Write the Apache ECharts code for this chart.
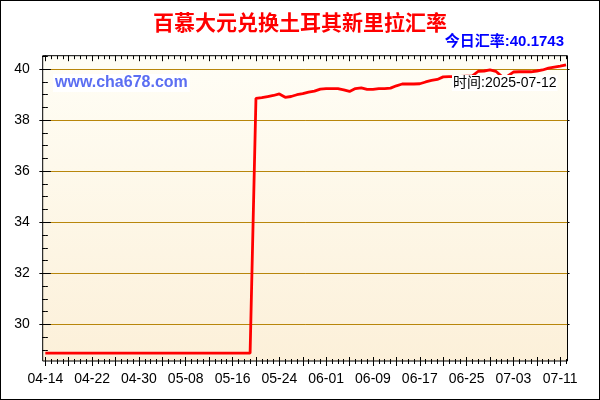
<!DOCTYPE html>
<html>
<head>
<meta charset="utf-8">
<script src="https://cdn.jsdelivr.net/npm/echarts@6/dist/echarts.min.js"></script>
<style>
html, body { margin: 0; padding: 0; background: #fff; }
#main { width: 600px; height: 400px; }
</style>
</head>
<body>
<div id="main"></div>
<script>
// 每日汇率 04-14 ~ 07-12
var rates = [
  28.87, 28.87, 28.87, 28.87, 28.87, 28.87, 28.87, 28.87, 28.87, 28.87,
  28.87, 28.87, 28.87, 28.87, 28.87, 28.87, 28.87, 28.87, 28.87, 28.87,
  28.87, 28.87, 28.87, 28.87, 28.87, 28.87, 28.87, 28.87, 28.87, 28.87,
  28.87, 28.87, 28.87, 28.87, 28.87, 28.87,
  38.86, 38.89, 38.93, 38.97, 39.03, 38.90, 38.93, 39.00, 39.04, 39.10,
  39.14, 39.22, 39.24, 39.24, 39.24, 39.19, 39.13, 39.24, 39.27, 39.21,
  39.21, 39.24, 39.24, 39.26, 39.35, 39.42, 39.42, 39.42, 39.43, 39.50,
  39.56, 39.60, 39.70, 39.71, 39.71, 39.72, 39.73, 39.74, 39.92, 39.93,
  39.97, 39.92, 39.72, 39.73, 39.89, 39.90, 39.90, 39.90, 39.93, 39.97,
  40.04, 40.08, 40.12, 40.1743
];
var yLabels = [30, 32, 34, 36, 38, 40];
var yMinor = [29, 29.5, 30, 30.5, 31, 31.5, 32, 32.5, 33, 33.5, 34, 34.5, 35, 35.5,
  36, 36.5, 37, 37.5, 38, 38.5, 39, 39.5, 40, 40.5];
var labelDays = [0, 8, 16, 24, 32, 40, 48, 56, 64, 72, 80, 88];

// 日期（MM-DD）
var dates = [];
var allDays = [];
var majorDays = [];
var d0 = new Date(2025, 3, 14);
for (var i = 0; i < rates.length; i++) {
  var d = new Date(d0.getTime() + i * 86400000);
  var mm = ('0' + (d.getMonth() + 1)).slice(-2);
  var dd = ('0' + d.getDate()).slice(-2);
  dates.push(mm + '-' + dd);
  allDays.push(i);
  if (i % 4 === 0) majorDays.push(i);
}

var xMin = -0.45, xMax = 89.25;
var yMin = 28.56, yMax = 40.53;
var font = '"Liberation Sans", "Noto Sans CJK SC", sans-serif';

function tickX(pos, values, len, inside) {
  return {
    type: 'value', position: pos, min: xMin, max: xMax,
    axisLine: { show: false },
    axisLabel: { show: false },
    splitLine: { show: false },
    axisTick: { show: true, inside: inside, length: len, customValues: values,
      lineStyle: { color: '#000', width: 1 } }
  };
}
function tickY(pos, values, len, inside) {
  return {
    type: 'value', position: pos, min: yMin, max: yMax,
    axisLine: { show: false },
    axisLabel: { show: false },
    splitLine: { show: false },
    axisTick: { show: true, inside: inside, length: len, customValues: values,
      lineStyle: { color: '#000', width: 1 } }
  };
}

var chart = echarts.init(document.getElementById('main'));

var option = {
  backgroundColor: '#fff',
  animation: false,
  title: [
    {
      text: '百慕大元兑换土耳其新里拉汇率',
      left: 'center', top: 12, padding: 0,
      textStyle: { color: '#ff0000', fontSize: 21, fontWeight: 'bold', fontFamily: '"Noto Sans CJK SC"' }
    },
    {
      text: '今日汇率:40.1743',
      right: 36, top: 34, padding: 0,
      textStyle: { color: '#0000ff', fontSize: 15, fontWeight: 'bold', fontFamily: font }
    },
    {
      text: 'www.cha678.com',
      left: 53, top: 74, padding: [1, 2],
      backgroundColor: '#ffffff',
      textStyle: { color: '#5b6ef2', fontSize: 16, fontWeight: 'bold', fontFamily: font }
    },
    {
      text: '时间:2025-07-12',
      left: 452, top: 75, padding: [1, 1],
      backgroundColor: '#ffffff',
      textStyle: { color: '#000', fontSize: 14, fontWeight: 'normal', fontFamily: font }
    }
  ],
  graphic: [
    {
      type: 'rect', silent: true,
      shape: { x: 0, y: 0, width: 600, height: 400 },
      style: { fill: 'none', stroke: '#000', lineWidth: 2 }
    }
  ],
  grid: {
    left: 42.7, right: 32.5, top: 55.7, bottom: 39,
    show: true,
    borderColor: '#000', borderWidth: 1,
    backgroundColor: new echarts.graphic.LinearGradient(0, 0, 0, 1, [
      { offset: 0, color: '#fffef6' },
      { offset: 1, color: '#fcf0d9' }
    ])
  },
  xAxis: [
    {
      type: 'value', position: 'bottom', min: xMin, max: xMax,
      axisLine: { show: false },
      splitLine: { show: false },
      axisTick: { show: true, length: 3, customValues: allDays, lineStyle: { color: '#000' } },
      axisLabel: {
        customValues: labelDays, margin: 11,
        color: '#000', fontSize: 14, fontFamily: font,
        formatter: function (v) { return dates[Math.round(v)]; }
      }
    },
    tickX('bottom', allDays, 2, true),
    tickX('bottom', majorDays, 5, false),
    tickX('bottom', majorDays, 4, true),
    tickX('top', allDays, 3.5, true),
    tickX('top', majorDays, 5.5, true)
  ],
  yAxis: [
    {
      type: 'value', position: 'left', min: yMin, max: yMax,
      axisLine: { show: false },
      axisTick: { show: true, length: 6, customValues: yLabels, lineStyle: { color: '#000' } },
      axisLabel: { customValues: yLabels, margin: 13, color: '#000', fontSize: 14, fontFamily: font },
      splitLine: { show: true, lineStyle: { color: '#b8860b', width: 1 } }
    },
    tickY('left', yLabels, 5.5, true),
    tickY('left', yMinor, 3, false),
    tickY('left', yMinor, 2.5, true),
    tickY('right', yMinor, 3, true),
    tickY('right', yLabels, 5, true),
    tickY('right', yLabels, 2, false)
  ],
  series: [
    {
      type: 'line',
      xAxisIndex: 0, yAxisIndex: 0,
      data: rates.map(function (v, i) { return [i, v]; }),
      symbol: 'none',
      lineStyle: { color: '#ff0000', width: 2.8 },
      z: 3
    }
  ]
};

chart.setOption(option);
</script>
</body>
</html>
